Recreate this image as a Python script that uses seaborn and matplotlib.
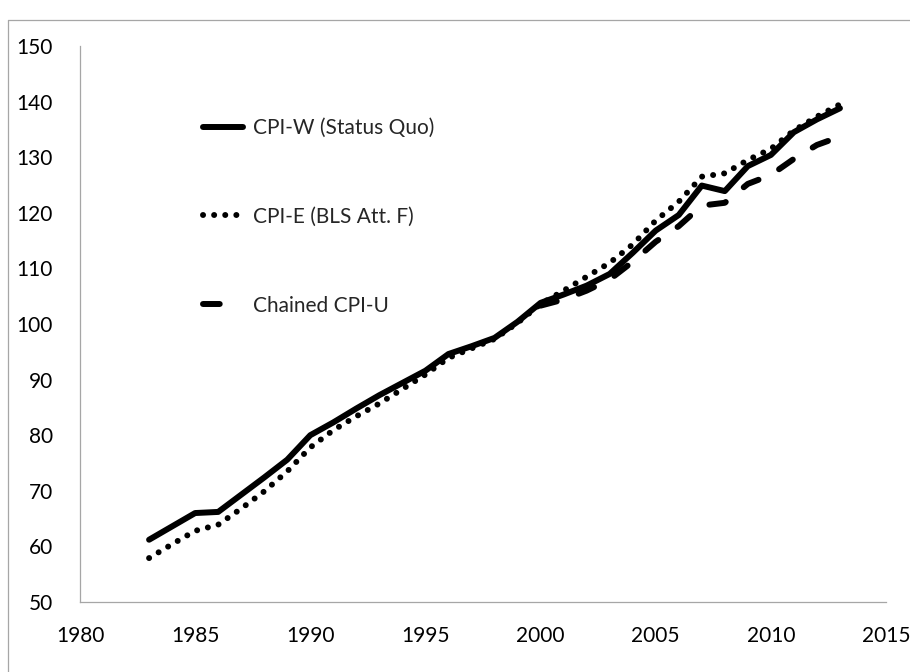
import matplotlib
matplotlib.use('Agg')
import matplotlib.pyplot as plt
import seaborn as sns
from matplotlib.lines import Line2D

# index values
years = list(range(1983, 2014))
cpi_w = [61.2, 63.6, 66.0, 66.2, 69.3, 72.4, 75.6, 80.0, 82.3, 84.8,
         87.2, 89.4, 91.6, 94.6, 96.0, 97.5, 100.4, 103.8, 105.3, 106.9,
         109.0, 112.8, 116.8, 119.6, 124.9, 123.9, 128.4, 130.4, 134.5, 136.8,
         138.8]
cpi_e = [57.9, 60.4, 62.8, 63.9, 66.8, 69.9, 73.5, 77.8, 80.9, 83.4,
         85.7, 88.3, 90.9, 93.9, 95.6, 97.3, 100.2, 103.6, 106.0, 108.5,
         111.0, 114.3, 118.6, 122.0, 126.5, 127.1, 129.5, 131.5, 134.8, 137.3,
         139.5]
chained_years = list(range(2000, 2014))
chained_cpi_u = [103.3, 104.4, 106.0, 108.0, 111.2, 114.8, 117.6, 121.3, 121.8,
                 125.2, 126.8, 129.7, 132.2, 133.7]

series_labels = ['CPI-W (Status Quo)', 'CPI-E (BLS Att. F)', 'Chained CPI-U']
x_ticks = [1980, 1985, 1990, 1995, 2000, 2005, 2010, 2015]
y_ticks = [50, 60, 70, 80, 90, 100, 110, 120, 130, 140, 150]

sns.set_style('white')
plt.rcParams['font.family'] = ['Lato', 'DejaVu Sans']

fig = plt.figure(figsize=(9.1, 6.72), dpi=100)
ax = fig.add_axes([80/910, 1-602/672, 806/910, 556/672])

lw = 4.3
sns.lineplot(x=years, y=cpi_w, ax=ax, color='black', linewidth=lw,
             label=series_labels[0], errorbar=None)
sns.lineplot(x=years, y=cpi_e, ax=ax, color='black', linewidth=lw,
             linestyle=(0, (0.01, 1.85)), dash_capstyle='round',
             label=series_labels[1], errorbar=None)
sns.lineplot(x=chained_years, y=chained_cpi_u, ax=ax, color='black', linewidth=lw,
             linestyle=(0, (2.8, 3.9)), dash_capstyle='round',
             label=series_labels[2], errorbar=None)

ax.set_xlim(1980, 2015)
ax.set_ylim(50, 150)
ax.set_xticks(x_ticks)
ax.set_yticks(y_ticks)
ax.set_xlabel('')
ax.set_ylabel('')

grey = '#a6a6a6'
for s in ['top', 'right']:
    ax.spines[s].set_visible(False)
for s in ['left', 'bottom']:
    ax.spines[s].set_color(grey)
    ax.spines[s].set_linewidth(0.9)
ax.tick_params(axis='both', direction='out', length=4.5, width=0.9, color=grey,
               labelsize=15, labelcolor='black')
ax.tick_params(axis='x', pad=13)
ax.tick_params(axis='y', pad=15)

ax.legend(loc='upper left', bbox_to_anchor=(203/910, 1-118/672),
          bbox_transform=fig.transFigure, frameon=False, fontsize=15,
          handlelength=1.9, handletextpad=0.5, labelspacing=3.3,
          borderpad=0, borderaxespad=0)

# outer chart border (only top and left are visible)
fig.add_artist(Line2D([8/910, 8/910], [0, 1-20/672], transform=fig.transFigure,
                      color=grey, lw=0.9))
fig.add_artist(Line2D([8/910, 1], [1-20/672, 1-20/672], transform=fig.transFigure,
                      color=grey, lw=0.9))

fig.savefig('out.png', dpi=100)
